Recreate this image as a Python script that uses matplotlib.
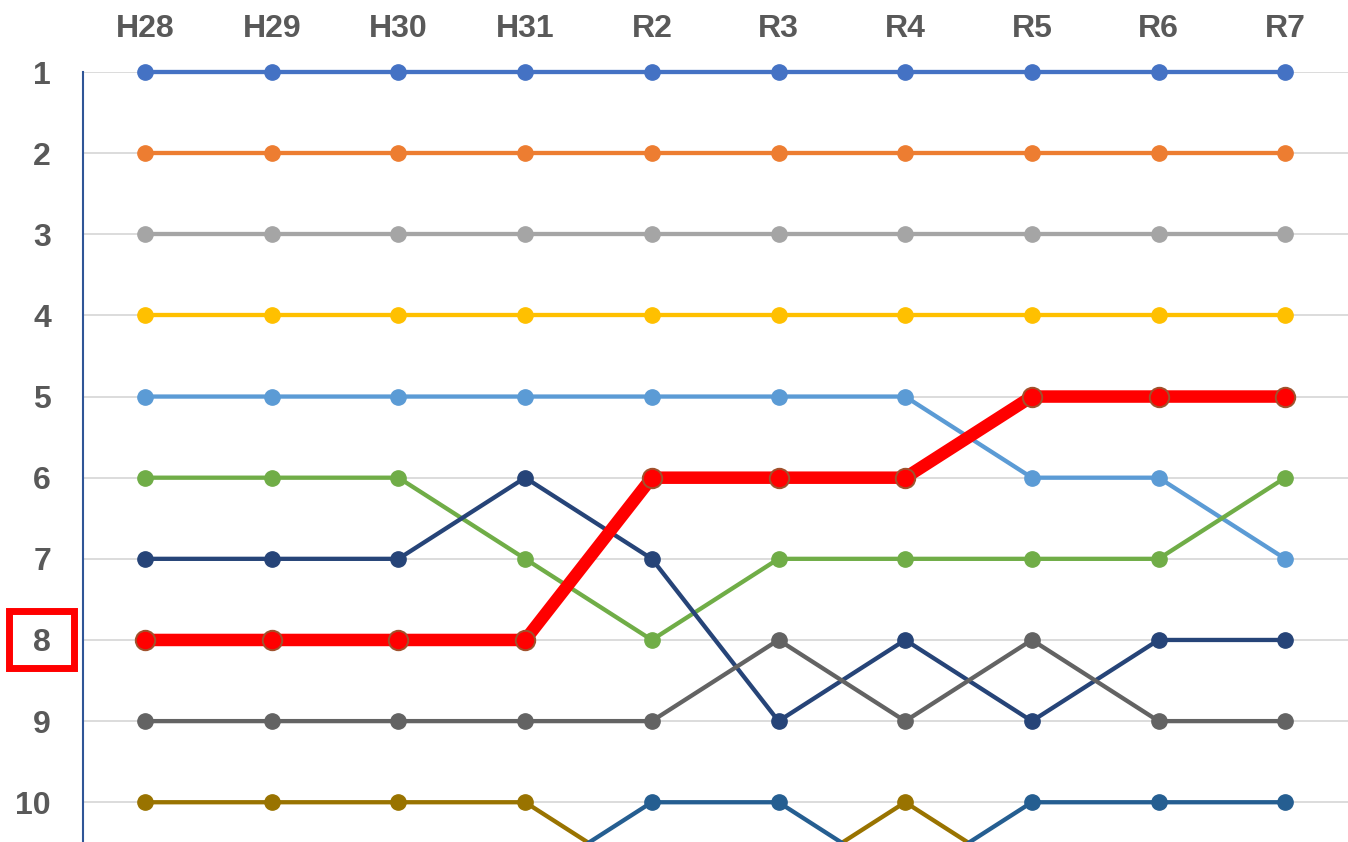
import matplotlib
matplotlib.use("Agg")
import matplotlib.pyplot as plt
from matplotlib.patches import Rectangle

years = ["H28", "H29", "H30", "H31", "R2", "R3", "R4", "R5", "R6", "R7"]
rank_ticks = [1, 2, 3, 4, 5, 6, 7, 8, 9, 10]

s_blue = [1, 1, 1, 1, 1, 1, 1, 1, 1, 1]
s_orange = [2, 2, 2, 2, 2, 2, 2, 2, 2, 2]
s_gray = [3, 3, 3, 3, 3, 3, 3, 3, 3, 3]
s_yellow = [4, 4, 4, 4, 4, 4, 4, 4, 4, 4]
s_lightblue = [5, 5, 5, 5, 5, 5, 5, 6, 6, 7]
s_green = [6, 6, 6, 7, 8, 7, 7, 7, 7, 6]
s_navy = [7, 7, 7, 6, 7, 9, 8, 9, 8, 8]
s_darkgray = [9, 9, 9, 9, 9, 8, 9, 8, 9, 9]
s_gold = [10, 10, 10, 10, 11, 11, 10, 11, 11, 11]
s_steel = [11, 11, 11, 11, 10, 10, 11, 10, 10, 10]
s_red = [8, 8, 8, 8, 6, 6, 6, 5, 5, 5]

W, H = 1348, 842
fig = plt.figure(figsize=(W / 100, H / 100), dpi=100)
ax = fig.add_axes([83 / W, 0, 1 - 83 / W, (842 - 72) / H])

x = list(range(len(years)))
normal = [
    (s_blue, "#4472C4"),
    (s_orange, "#ED7D31"),
    (s_gray, "#A5A5A5"),
    (s_yellow, "#FFC000"),
    (s_lightblue, "#5B9BD5"),
    (s_green, "#70AD47"),
    (s_navy, "#264478"),
    (s_darkgray, "#636363"),
    (s_gold, "#997300"),
    (s_steel, "#255E91"),
]
for vals, c in normal:
    ax.plot(x, vals, color=c, lw=3.1, marker="o", ms=11, mec=c, mfc=c,
            clip_on=False, zorder=3, solid_joinstyle="round")
ax.plot(x, s_red, color="#FF0000", lw=9, marker="o", ms=14, mfc="#FF0000",
        mec="#A0522D", mew=1.4, clip_on=False, zorder=4, solid_joinstyle="round")

ax.set_xlim(-0.49, 9.495)
ax.set_ylim(10.49, 1)
ax.set_yticks(rank_ticks)
ax.set_xticks(x)
ax.set_xticklabels(years)
ax.xaxis.tick_top()
ax.grid(axis="y", color="#D9D9D9", lw=1.3, zorder=1)
ax.grid(axis="x", visible=False)
for sp in ["top", "right", "bottom"]:
    ax.spines[sp].set_visible(False)
ax.spines["left"].set_color("#2F5597")
ax.spines["left"].set_linewidth(1.5)
ax.tick_params(axis="both", length=0)
ax.tick_params(axis="x", pad=20)
ax.tick_params(axis="y", pad=23)
for lab in ax.get_xticklabels() + ax.get_yticklabels():
    lab.set_fontfamily("Liberation Sans")
    lab.set_fontweight("bold")
    lab.set_fontsize(23)
    lab.set_color("#595959")

fig.patches.append(Rectangle((8.5 / W, (842 - 667.5) / H), 65 / W, 57 / H,
                             transform=fig.transFigure, fill=False,
                             edgecolor="#FF0000", lw=5))

fig.savefig("out.png", dpi=100)
